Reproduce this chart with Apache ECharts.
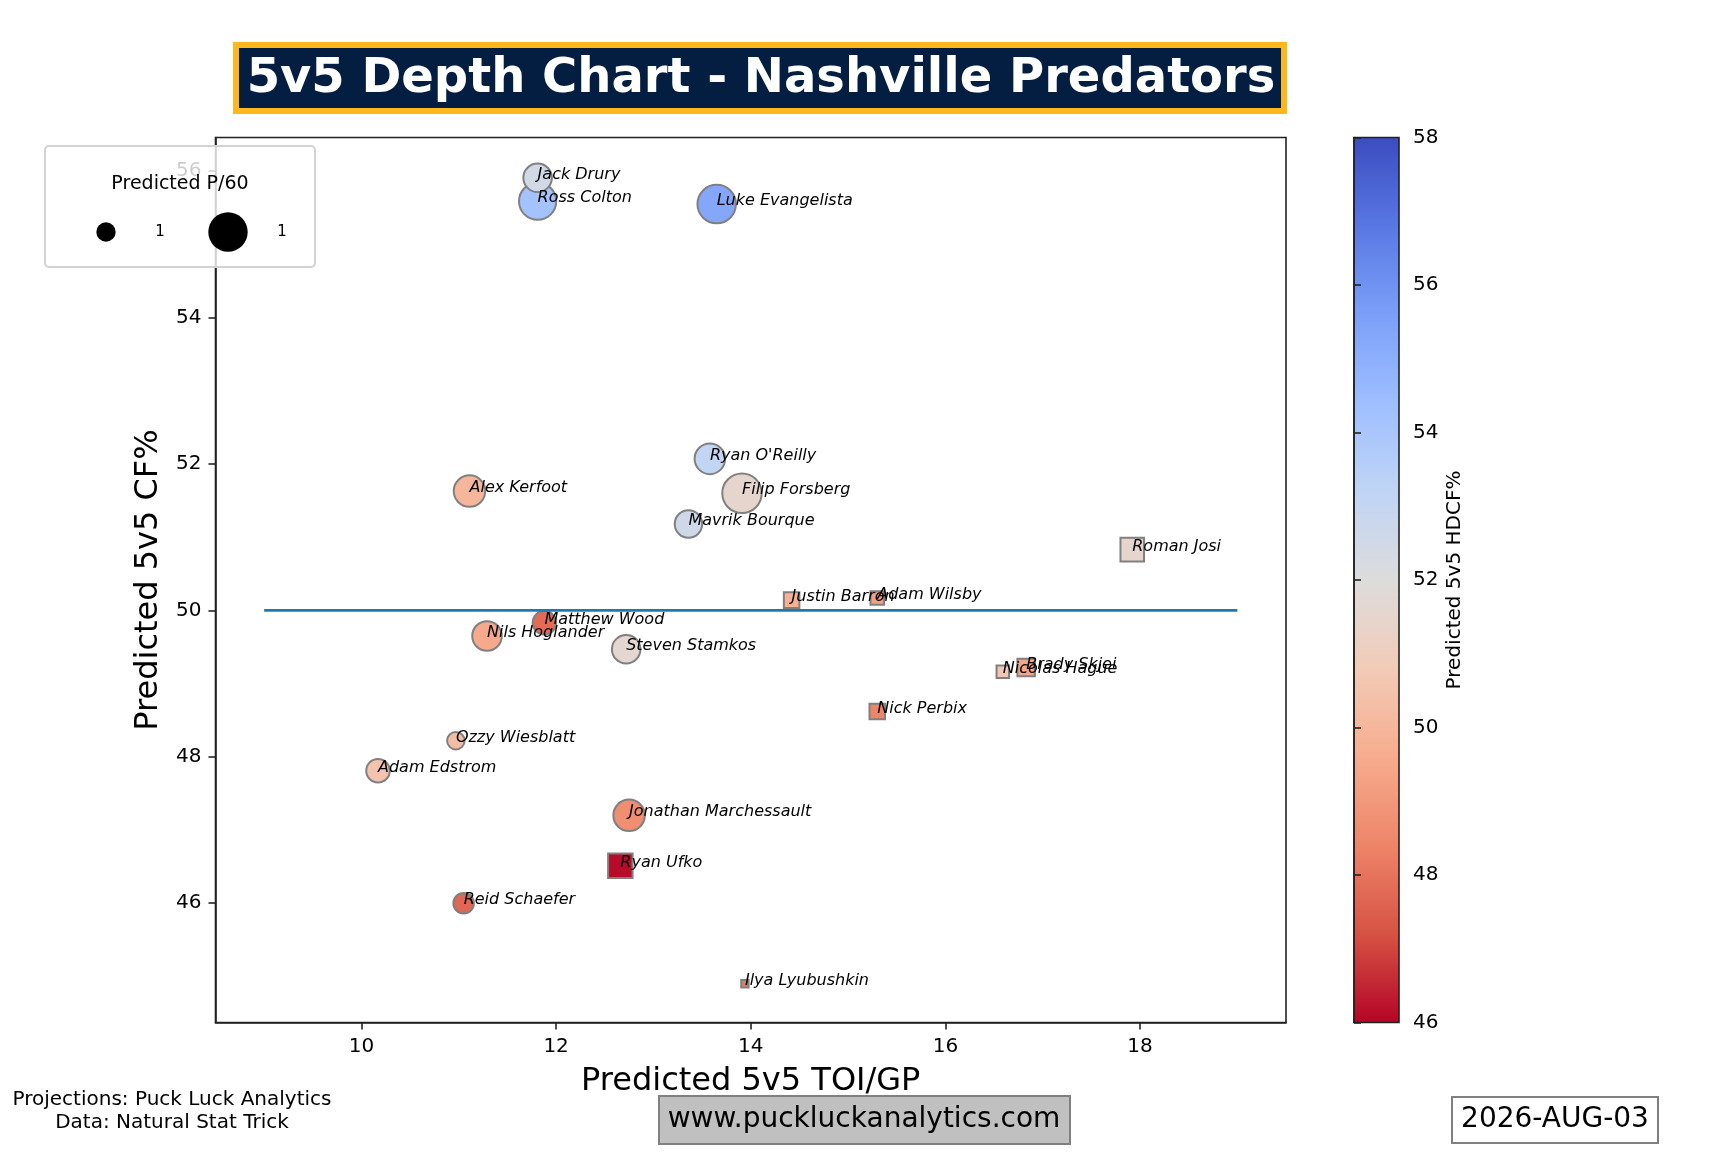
<!DOCTYPE html>
<html>
<head>
<meta charset="utf-8">
<script src="https://cdn.jsdelivr.net/npm/echarts@6/dist/echarts.min.js"></script>
<style>
html,body{margin:0;padding:0;background:#fff;}
#chart{width:1728px;height:1152px;}
</style>
</head>
<body>
<div id="chart"></div>
<script>
// ---------- data ----------
const fwdNames = ["Ross Colton","Jack Drury","Luke Evangelista","Ryan O'Reilly","Alex Kerfoot","Filip Forsberg","Mavrik Bourque","Matthew Wood","Nils Hoglander","Steven Stamkos","Ozzy Wiesblatt","Adam Edstrom","Jonathan Marchessault","Reid Schaefer"];
const fwdToi   = [11.81, 11.81, 13.65, 13.58, 11.11, 13.91, 13.36, 11.88, 11.29, 12.72, 10.97, 10.17, 12.75, 11.05];
const fwdCf    = [55.59, 55.91, 55.55, 52.07, 51.63, 51.60, 51.18, 49.83, 49.65, 49.47, 48.22, 47.81, 47.20, 46.00];
const fwdHdcf  = [54.2, 52.5, 55.3, 53.1, 50.0, 51.5, 52.6, 47.8, 49.5, 51.6, 50.3, 50.5, 48.7, 47.7];
const fwdP60   = [1.91, 1.15, 2.04, 1.31, 1.39, 2.14, 1.07, 0.80, 1.23, 1.15, 0.46, 0.80, 1.39, 0.62];

const defNames = ["Roman Josi","Justin Barron","Adam Wilsby","Brady Skjei","Nicolas Hague","Nick Perbix","Ryan Ufko","Ilya Lyubushkin"];
const defToi   = [17.92, 14.42, 15.30, 16.83, 16.59, 15.30, 12.66, 13.94];
const defCf    = [50.83, 50.14, 50.17, 49.22, 49.16, 48.62, 46.51, 44.90];
const defHdcf  = [51.5, 49.8, 49.2, 49.4, 50.6, 48.4, 46.1, 48.1];
const defP60   = [0.80, 0.37, 0.29, 0.46, 0.25, 0.37, 0.86, 0.10];

const refLineX = [9, 19];
const refLineY = [50, 50];

const xTicks  = [10, 12, 14, 16, 18];
const yTicks  = [46, 48, 50, 52, 54, 56];
const cbarMin = 46, cbarMax = 58;
const legendLabels = ["1", "1"];

// ---------- build ----------
const FONT = 'DejaVu Sans';
const coolwarmR = ['#b40426','#d65244','#ee8468','#f7ac8e','#f2cbb7','#dddcdc','#c0d4f5','#9ebeff','#7b9ff9','#5977e3','#3b4cc0'];

const fwdData = fwdNames.map((n,i)=>[fwdToi[i], fwdCf[i], fwdHdcf[i], fwdP60[i], n]);
const defData = defNames.map((n,i)=>[defToi[i], defCf[i], defHdcf[i], defP60[i], n]);
const labelData = fwdData.concat(defData).map(d=>[d[0], d[1], d[4]]);
const sizeFn = v => 28*Math.sqrt(v[3]) - 1.5;

const PL = 215.5, PR = 1286, PT = 137.5, PB = 1022.5;
const chart = echarts.init(document.getElementById('chart'), null, {renderer:'canvas'});

const option = {
  backgroundColor: '#ffffff',
  animation: false,
  textStyle: {fontFamily: FONT},
  grid: [
    {left: PL, top: PT, width: PR-PL, height: PB-PT, show: true, borderColor: '#222', borderWidth: 1.6, containLabel: false},
    {left: 1354, top: PT, width: 45, height: PB-PT, show: true, borderColor: '#222', borderWidth: 1.6,
     backgroundColor: new echarts.graphic.LinearGradient(0,0,0,1, coolwarmR.slice().reverse().map((c,i,a)=>({offset:i/(a.length-1), color:c})))}
  ],
  xAxis: [
    {type:'value', gridIndex:0, min:8.5, max:19.5,
     name:'Predicted 5v5 TOI/GP', nameLocation:'middle', nameGap:43,
     nameTextStyle:{fontFamily:FONT, fontSize:32, color:'#000'},
     axisLine:{show:true, lineStyle:{color:'#222', width:1.6}},
     axisTick:{show:true, length:7, lineStyle:{color:'#222', width:1.6}, customValues:xTicks},
     axisLabel:{fontFamily:FONT, fontSize:20, color:'#000', margin:14, customValues:xTicks},
     splitLine:{show:false}},
    {type:'value', gridIndex:1, show:false, min:0, max:1}
  ],
  yAxis: [
    {type:'value', gridIndex:0, min:44.37, max:56.46,
     name:'Predicted 5v5 CF%', nameLocation:'middle', nameGap:47,
     nameTextStyle:{fontFamily:FONT, fontSize:32, color:'#000'},
     axisLine:{show:true, lineStyle:{color:'#222', width:1.6}},
     axisTick:{show:true, length:7, lineStyle:{color:'#222', width:1.6}, customValues:yTicks},
     axisLabel:{fontFamily:FONT, fontSize:20, color:'#000', margin:14, customValues:yTicks},
     splitLine:{show:false}},
    {type:'value', gridIndex:1, position:'right', min:cbarMin, max:cbarMax, interval:2,
     name:'Predicted 5v5 HDCF%', nameLocation:'middle', nameGap:46, nameRotate:90,
     nameTextStyle:{fontFamily:FONT, fontSize:20, color:'#000'},
     axisLine:{show:true, lineStyle:{color:'#222', width:1.6}},
     axisTick:{show:true, length:7, lineStyle:{color:'#222', width:1.6}},
     axisLabel:{fontFamily:FONT, fontSize:20, color:'#000', margin:14},
     splitLine:{show:false}}
  ],
  visualMap: {show:false, type:'continuous', min:cbarMin, max:cbarMax, dimension:2, seriesIndex:[0,1], inRange:{color:coolwarmR}},
  series: [
    {type:'scatter', xAxisIndex:0, yAxisIndex:0, symbol:'circle', data:fwdData, symbolSize:sizeFn,
     itemStyle:{borderColor:'#808080', borderWidth:2, opacity:1}, z:2, silent:true},
    {type:'scatter', xAxisIndex:0, yAxisIndex:0, symbol:'rect', data:defData, symbolSize:sizeFn,
     itemStyle:{borderColor:'#808080', borderWidth:2, opacity:1}, z:2, silent:true},
    {type:'line', xAxisIndex:0, yAxisIndex:0, data: refLineX.map((x,i)=>[x, refLineY[i]]), symbol:'none',
     lineStyle:{color:'#1f77b4', width:2.6}, z:3, silent:true},
    {type:'scatter', xAxisIndex:0, yAxisIndex:0, data:labelData, symbolSize:0, z:5, silent:true,
     itemStyle:{color:'rgba(0,0,0,0)'},
     label:{show:true, formatter:p=>p.data[2], position:['50%','50%'], align:'left', verticalAlign:'bottom', offset:[0,5],
            fontFamily:FONT, fontStyle:'italic', fontSize:16, color:'#000', opacity:1}}
  ],
  graphic: [
    // title
    {type:'rect', z:50, shape:{x:236, y:45, width:1048, height:66}, style:{fill:'#041e42', stroke:'#ffb81c', lineWidth:6}},
    {type:'text', z:51, x:761, y:80, style:{text:'5v5 Depth Chart - Nashville Predators', fontFamily:FONT, fontWeight:'bold', fontSize:48, fill:'#ffffff', align:'center', verticalAlign:'middle'}},
    // size legend
    {type:'rect', z:60, shape:{x:45, y:146, width:270, height:121, r:4}, style:{fill:'rgba(255,255,255,0.8)', stroke:'#d3d3d3', lineWidth:2}},
    {type:'text', z:61, x:180, y:184, style:{text:'Predicted P/60', fontFamily:FONT, fontSize:19, fill:'#000', align:'center', verticalAlign:'middle'}},
    {type:'circle', z:61, shape:{cx:106, cy:232, r:9.7}, style:{fill:'#000'}},
    {type:'text', z:61, x:160, y:232, style:{text:legendLabels[0], fontFamily:FONT, fontSize:15, fill:'#000', align:'center', verticalAlign:'middle'}},
    {type:'circle', z:61, shape:{cx:228, cy:232, r:19.7}, style:{fill:'#000'}},
    {type:'text', z:61, x:282, y:232, style:{text:legendLabels[1], fontFamily:FONT, fontSize:15, fill:'#000', align:'center', verticalAlign:'middle'}},
    // footnotes
    {type:'text', z:50, x:172, y:1111, style:{text:'Projections: Puck Luck Analytics\nData: Natural Stat Trick', fontFamily:FONT, fontSize:20, lineHeight:23, fill:'#000', align:'center', verticalAlign:'middle'}},
    {type:'rect', z:50, shape:{x:659, y:1096, width:411, height:48}, style:{fill:'#c0c0c0', stroke:'#808080', lineWidth:2}},
    {type:'text', z:51, x:864, y:1120, style:{text:'www.puckluckanalytics.com', fontFamily:FONT, fontSize:28, fill:'#000', align:'center', verticalAlign:'middle'}},
    {type:'rect', z:50, shape:{x:1452, y:1097, width:206, height:46}, style:{fill:'#ffffff', stroke:'#808080', lineWidth:2}},
    {type:'text', z:51, x:1555, y:1120, style:{text:'2026-AUG-03', fontFamily:FONT, fontSize:28, fill:'#000', align:'center', verticalAlign:'middle'}}
  ]
};
chart.setOption(option);
</script>
</body>
</html>
